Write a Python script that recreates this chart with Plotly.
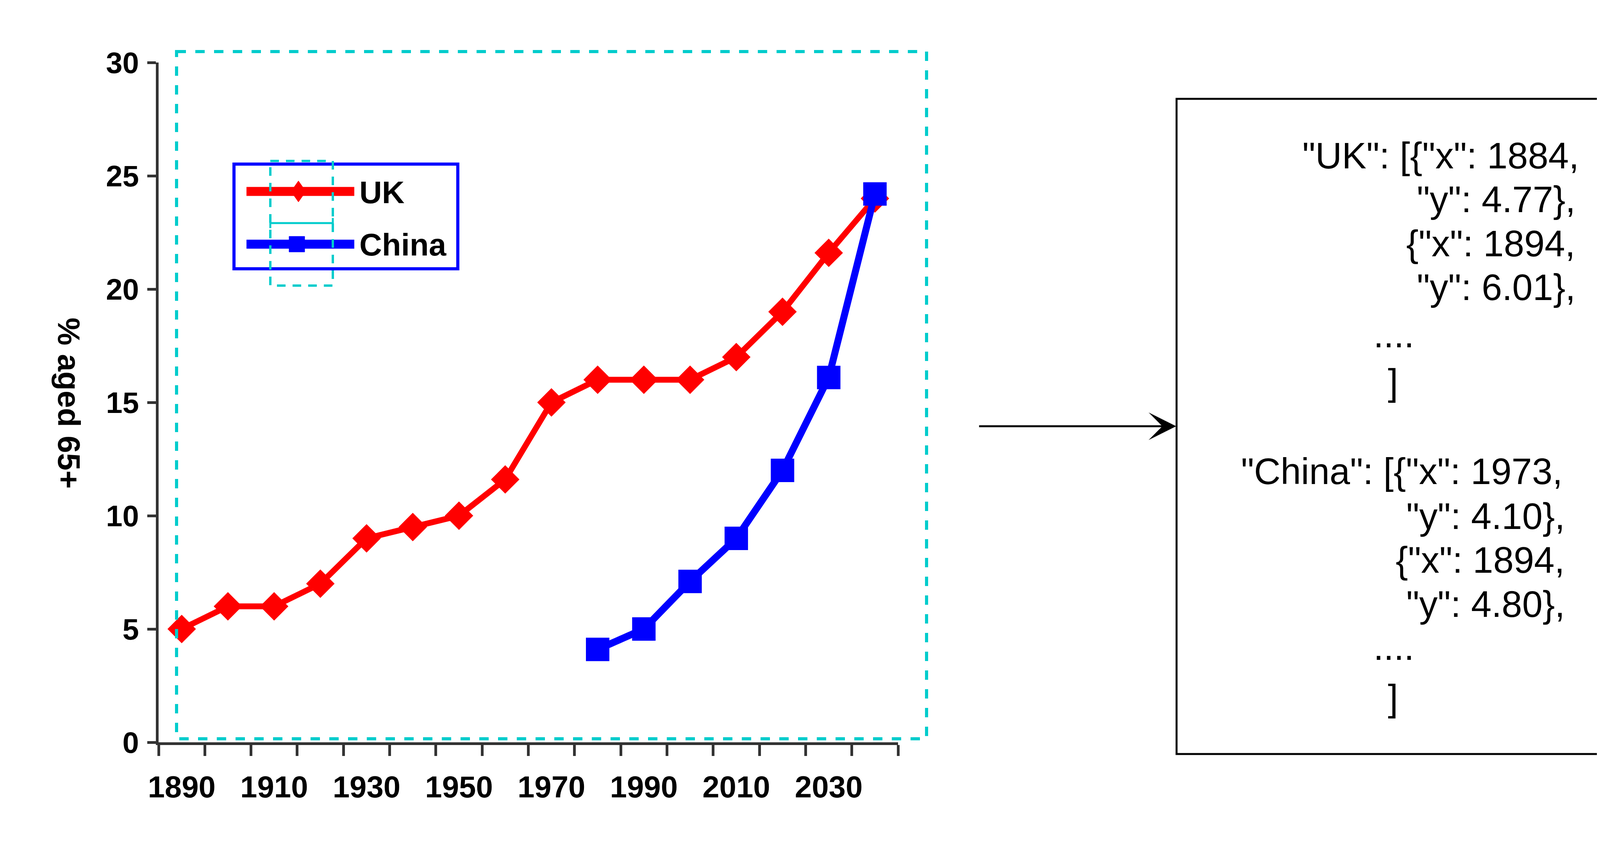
import plotly.graph_objects as go

# data
years = [1890, 1900, 1910, 1920, 1930, 1940, 1950, 1960,
         1970, 1980, 1990, 2000, 2010, 2020, 2030, 2040]
uk = [5.0, 6.0, 6.0, 7.0, 9.0, 9.5, 10.0, 11.6,
      15.0, 16.0, 16.0, 16.0, 17.0, 19.0, 21.6, 24.0]
china_years = [1980, 1990, 2000, 2010, 2020, 2030, 2040]
china = [4.1, 5.0, 7.1, 9.0, 12.0, 16.1, 24.2]
tick_years = [1890, 1910, 1930, 1950, 1970, 1990, 2010, 2030]
tick_labels = [str(y) for y in tick_years]

json_lines = ['"UK": [{"x": 1884,', '"y": 4.77},', '{"x": 1894,', '"y": 6.01},', '....', ']',
              '"China": [{"x": 1973,', '"y": 4.10},', '{"x": 1894,', '"y": 4.80},', '....', ']']

W, H = 4128, 2168
L, R, T, B = 398, 1837, 152, 276
PW = W - L - R
PH = H - T - B

def px(x):
    return (x - L) / PW

def py(y):
    return 1 - (y - T) / PH

SANS = "Liberation Sans, Arial, sans-serif"
AXIS = "#333333"
CYAN = "#00CCCC"

fig = go.Figure()
fig.add_trace(go.Scatter(x=years, y=uk, name="UK", mode="lines+markers",
                         line=dict(color="#FF0000", width=15),
                         marker=dict(symbol="diamond", size=56, color="#FF0000")))
fig.add_trace(go.Scatter(x=china_years, y=china, name="China", mode="lines+markers",
                         line=dict(color="#0000FF", width=18),
                         marker=dict(symbol="square", size=60, color="#0000FF")))

boundaries = [y - 5 for y in years] + [years[-1] + 5]

fig.update_xaxes(range=[boundaries[0], boundaries[-1]], showgrid=False, zeroline=False,
                 showline=True, linecolor=AXIS, linewidth=7,
                 tickvals=tick_years, ticktext=tick_labels, ticks="",
                 ticklabelstandoff=40,
                 tickfont=dict(family=SANS, size=78, color="black", weight="bold"),
                 minor=dict(tickvals=boundaries, ticks="outside", ticklen=28,
                            tickwidth=7, tickcolor=AXIS, showgrid=False))
fig.update_yaxes(range=[0, 30], dtick=5, showgrid=False, zeroline=False,
                 showline=True, linecolor=AXIS, linewidth=7,
                 ticks="outside", ticklen=22, tickwidth=7, tickcolor=AXIS,
                 ticklabelstandoff=6,
                 tickfont=dict(family=SANS, size=76, color="black", weight="bold"))

shapes = []
annotations = []

# legend box drawn by hand (sample lines are much longer than plotly's)
shapes.append(dict(type="rect", xref="paper", yref="paper",
                   x0=px(591), x1=px(1164), y0=py(412), y1=py(680),
                   line=dict(color="#0000FF", width=8), fillcolor="white", layer="above"))
for yc, col in [(482, "#FF0000"), (617, "#0000FF")]:
    shapes.append(dict(type="line", xref="paper", yref="paper",
                       x0=px(623), x1=px(899), y0=py(yc), y1=py(yc),
                       line=dict(color=col, width=23), layer="above"))
shapes.append(dict(type="path", xref="paper", yref="paper", layer="above",
                   path="M{},{} L{},{} L{},{} L{},{} Z".format(
                       px(756), py(455), px(775), py(482), px(756), py(509), px(737), py(482)),
                   fillcolor="#FF0000", line=dict(color="#FF0000", width=1)))
shapes.append(dict(type="rect", xref="paper", yref="paper", layer="above",
                   x0=px(732), x1=px(772), y0=py(597), y1=py(637),
                   fillcolor="#0000FF", line=dict(color="#0000FF", width=1)))
for txt, yc in [("UK", 484), ("China", 618)]:
    annotations.append(dict(text=txt, xref="paper", yref="paper", x=px(910), y=py(yc),
                            xanchor="left", yanchor="middle", showarrow=False,
                            font=dict(family=SANS, size=80, color="black", weight="bold")))

# cyan dashed boxes
shapes.append(dict(type="rect", xref="paper", yref="paper", layer="above",
                   x0=px(444), x1=px(2364), y0=py(124), y1=py(1883),
                   line=dict(color=CYAN, width=8, dash="24px,24px")))
shapes.append(dict(type="rect", xref="paper", yref="paper", layer="above",
                   x0=px(684), x1=px(844), y0=py(404), y1=py(723),
                   line=dict(color=CYAN, width=6, dash="22px,18px")))
shapes.append(dict(type="line", xref="paper", yref="paper", layer="above",
                   x0=px(684), x1=px(844), y0=py(563), y1=py(563),
                   line=dict(color=CYAN, width=5)))
for xe in (684, 844):
    shapes.append(dict(type="line", xref="paper", yref="paper", layer="above",
                       x0=px(xe), x1=px(xe), y0=py(550), y1=py(576),
                       line=dict(color=CYAN, width=5)))

# y axis title, reading top to bottom
annotations.append(dict(text="% aged 65+", xref="paper", yref="paper", x=px(168), y=py(1024),
                        textangle=90, showarrow=False, xanchor="center", yanchor="middle",
                        font=dict(family=SANS, size=80, color="black", weight="bold")))

# arrow and json box on the right
annotations.append(dict(text="", xref="paper", yref="paper", x=px(3003), y=py(1083),
                        ax=-506, ay=0, showarrow=True, arrowhead=3, arrowwidth=5,
                        arrowsize=2.35, arrowcolor="black"))
shapes.append(dict(type="rect", xref="paper", yref="paper",
                   x0=px(3004), x1=px(4121), y0=py(245), y1=py(1922),
                   line=dict(color="black", width=5), fillcolor="white"))

line_x = [4036, 4027, 4027, 4027, 3560, 3558, 3994, 4000, 4000, 4000, 3560, 3558]
line_y = [390, 502, 615, 727, 848, 970, 1198, 1313, 1425, 1538, 1648, 1778]
for txt, xr, yc in zip(json_lines, line_x, line_y):
    centred = txt in ("....", "]")
    annotations.append(dict(text=txt, xref="paper", yref="paper", x=px(xr), y=py(yc),
                            xanchor="center" if centred else "right", yanchor="middle",
                            showarrow=False,
                            font=dict(family=SANS, size=94, color="black")))

fig.update_layout(width=W, height=H, margin=dict(l=L, r=R, t=T, b=B, autoexpand=False),
                  paper_bgcolor="white", plot_bgcolor="white", showlegend=False,
                  shapes=shapes, annotations=annotations)
fig.write_html("out.html")
